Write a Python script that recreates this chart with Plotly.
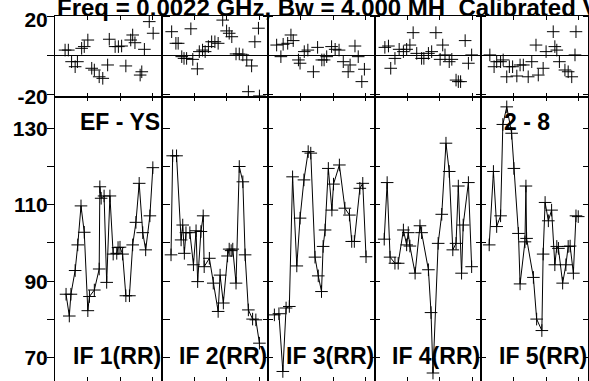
import plotly.graph_objects as go

W, H = 589, 381

title_text = "Freq = 0.0022 GHz, Bw = 4.000 MH  Calibrated Vis"
baseline_label = "EF - YS"
source_label = "2 - 8"
if_labels = ["IF 1(RR)", "IF 2(RR)", "IF 3(RR)", "IF 4(RR)", "IF 5(RR)"]

# amplitude vs time (hours) for each IF
amp_t1 = [0.34, 0.44, 0.49, 0.62, 0.70, 0.80, 0.90, 1.01, 1.06, 1.21, 1.36, 1.38, 1.42, 1.51, 1.59,
          1.69, 1.79, 1.90, 1.94, 2.00, 2.08, 2.18, 2.29, 2.39, 2.49, 2.59, 2.70, 2.79, 2.92, 3.01]
amp_1 = [86.6, 80.9, 86.6, 92.8, 99.5, 109.7, 102.8, 82.3, 86.0, 87.7, 93.2, 114.7, 111.7, 112.3, 89.7,
         112.3, 97.1, 97.3, 98.8, 98.9, 97.1, 86.2, 86.2, 99.5, 105.4, 115.6, 102.7, 98.2, 107.1, 119.7]

amp_t2 = [0.29, 0.34, 0.46, 0.60, 0.65, 0.70, 0.75, 0.87, 0.98, 1.06, 1.11, 1.21, 1.28, 1.31, 1.47, 1.59,
          1.74, 1.80, 1.90, 2.03, 2.08, 2.14, 2.19, 2.29, 2.39, 2.50, 2.57, 2.67, 2.80, 2.90, 3.01]
amp_2 = [96.9, 122.8, 122.8, 100.8, 104.7, 97.3, 102.7, 102.7, 94.3, 103.2, 89.9, 103.0, 107.1, 93.8, 96.0, 89.5,
         82.1, 91.6, 84.3, 96.6, 98.4, 98.0, 98.4, 89.5, 120.0, 116.0, 96.9, 82.5, 80.1, 79.9, 73.8]

amp_t3 = [0.19, 0.33, 0.45, 0.55, 0.65, 0.75, 0.88, 0.98, 1.10, 1.23, 1.31, 1.44, 1.54, 1.64, 1.69, 1.75,
          1.85, 1.96, 2.01, 2.19, 2.36, 2.50, 2.57, 2.65, 2.82, 2.91, 3.01]
amp_3 = [81.2, 81.5, 66.4, 83.0, 83.4, 117.3, 94.0, 106.5, 116.5, 123.9, 123.5, 96.3, 91.4, 87.3, 99.1, 103.4,
         119.5, 108.6, 115.4, 120.4, 109.1, 107.3, 100.4, 100.4, 114.3, 115.6, 96.4]

amp_t4 = [0.29, 0.38, 0.47, 0.62, 0.72, 0.88, 0.98, 1.03, 1.08, 1.24, 1.39, 1.44, 1.65, 1.73, 1.79, 1.95,
          2.06, 2.19, 2.29, 2.40, 2.50, 2.57, 2.67, 2.72, 2.88, 2.98]
amp_4 = [101.0, 115.8, 96.3, 94.7, 94.7, 103.4, 99.5, 102.7, 99.2, 92.1, 104.5, 102.7, 93.0, 81.8, 66.0, 99.9,
         107.5, 126.1, 118.7, 98.2, 99.9, 114.9, 92.1, 104.7, 115.8, 93.8]

amp_t5 = [0.24, 0.37, 0.47, 0.59, 0.66, 0.78, 0.93, 1.00, 1.14, 1.19, 1.34, 1.37, 1.39, 1.60, 1.70, 1.86,
          1.90, 1.96, 2.06, 2.16, 2.26, 2.32, 2.37, 2.50, 2.60, 2.67, 2.73, 2.83, 2.91, 2.98]
amp_5 = [99.5, 118.7, 104.3, 107.1, 131.0, 135.6, 128.7, 119.5, 102.5, 89.3, 100.3, 114.9, 101.2, 91.0, 80.1, 77.1,
         97.1, 110.6, 105.8, 108.6, 94.3, 99.1, 98.6, 89.5, 94.3, 99.1, 99.2, 92.1, 107.1, 106.9]

# phase (degrees) vs time (hours) for each IF
ph_t1 = [0.31, 0.41, 0.51, 0.62, 0.69, 0.82, 0.90, 1.01, 1.13, 1.21, 1.36, 1.47, 1.62, 1.67, 1.85, 1.95,
         2.05, 2.18, 2.33, 2.39, 2.46, 2.62, 2.67, 2.75, 2.90, 3.02]
ph_1 = [2.7, 2.7, -3.3, -5.9, -3.3, 3.6, 4.5, 7.9, -6.7, -7.6, -11.1, -11.9, -5.0, 8.3, 4.5, 4.5,
        4.8, -5.5, 7.9, 10.5, 6.5, -10.2, -8.5, 3.1, 17.4, 11.4]

ph_t2 = [0.31, 0.44, 0.51, 0.62, 0.69, 0.77, 0.90, 0.96, 1.10, 1.16, 1.26, 1.34, 1.44, 1.54, 1.64, 1.74,
         1.88, 2.00, 2.08, 2.16, 2.29, 2.39, 2.50, 2.62, 2.67, 2.77, 2.87, 2.98, 3.01]
ph_2 = [12.2, 6.2, 6.2, -0.7, -1.6, -1.6, 13.7, -2.1, -7.0, 1.9, 2.7, 1.9, 4.5, 7.0, 7.0, 6.2,
        18.2, 12.6, 11.4, 9.6, 0.7, 0.7, 0.2, -2.4, -18.8, -5.5, 7.0, 14.0, -21.0]

ph_t3 = [0.26, 0.39, 0.46, 0.60, 0.70, 0.77, 0.93, 0.98, 1.11, 1.22, 1.39, 1.52, 1.65, 1.72, 1.80, 1.95,
         2.06, 2.18, 2.31, 2.46, 2.52, 2.67, 2.77, 2.88, 2.96]
ph_3 = [5.3, -0.7, 5.7, 6.2, 10.5, 7.6, -2.4, -4.1, 1.9, 2.7, -8.5, 4.1, -2.4, -2.4, -0.7, 4.5,
        3.1, 2.7, -3.3, -8.5, -5.0, 4.8, -0.7, -13.6, -7.2]

ph_t4 = [0.31, 0.42, 0.49, 0.62, 0.75, 0.88, 0.98, 1.08, 1.18, 1.29, 1.44, 1.51, 1.65, 1.75, 1.88, 2.01,
         2.09, 2.16, 2.29, 2.37, 2.50, 2.57, 2.64, 2.78, 2.88, 2.98]
ph_4 = [4.1, 4.8, -6.7, -1.6, 3.1, 1.9, 3.1, 5.3, 11.7, 1.0, -1.6, -1.6, 1.0, 1.9, 11.7, -2.1,
        5.3, 0.2, -3.3, -2.1, -12.8, -13.6, -13.6, 7.6, -4.1, 0.2]

ph_t5 = [0.26, 0.39, 0.47, 0.59, 0.67, 0.78, 0.86, 0.96, 1.09, 1.19, 1.29, 1.44, 1.55, 1.68, 1.75, 1.90,
         1.99, 2.21, 2.26, 2.32, 2.40, 2.57, 2.67, 2.78, 2.88, 2.91]
ph_5 = [0.2, -5.9, -3.3, -3.3, -2.4, -11.1, -5.9, -5.9, -10.7, -5.0, -5.0, -11.1, -3.3, 5.3, -10.2, -6.7,
        1.9, 12.2, 4.5, 2.7, -3.3, -7.6, -8.5, -11.1, 0.2, 12.2]

amp_ticks = [70, 80, 90, 100, 110, 120, 130]
amp_ticktext = ["70", "", "90", "", "110", "", "130"]
ph_ticks = [-20, 0, 20]
ph_ticktext = ["-20", "", "20"]
time_ticks = [1, 2, 3]

amp_series = [(amp_t1, amp_1), (amp_t2, amp_2), (amp_t3, amp_3), (amp_t4, amp_4), (amp_t5, amp_5)]
ph_series = [(ph_t1, ph_1), (ph_t2, ph_2), (ph_t3, ph_3), (ph_t4, ph_4), (ph_t5, ph_5)]


def px_x(p):
    return p / W


def px_y(p):
    return 1 - p / H


FONT = "Liberation Sans, Arial, sans-serif"
edges = [55, 161.6, 268.2, 374.8, 481.4, 588]
top_dom = [px_y(97.3), px_y(15.5)]
bot_dom = [px_y(380.5), px_y(97.3)]

fig = go.Figure()
marker = dict(symbol="cross-thin", size=9, line=dict(color="black", width=1), color="black")

layout = dict(
    width=W, height=H, margin=dict(l=0, r=0, t=0, b=0, autoexpand=False),
    paper_bgcolor="white", plot_bgcolor="white", showlegend=False,
)

for i in range(5):
    top = i + 1
    bot = i + 6
    xd = [px_x(edges[i]), px_x(edges[i + 1])]
    ph_t, ph_v = ph_series[i]
    am_t, am_v = amp_series[i]
    fig.add_trace(go.Scatter(x=ph_t, y=ph_v, mode="markers", marker=marker,
                             xaxis=f"x{top}", yaxis=f"y{top}"))
    fig.add_trace(go.Scatter(x=am_t, y=am_v, mode="lines+markers", marker=marker,
                             line=dict(color="black", width=1),
                             xaxis=f"x{bot}", yaxis=f"y{bot}"))
    ytick = "outside" if i == 0 else "inside"
    for n, dom, rng, tv, tt, shift in ((top, top_dom, [-21.7, 20.57], ph_ticks, ph_ticktext, 3),
                                       (bot, bot_dom, [64.04, 138.1], amp_ticks, amp_ticktext, 0)):
        layout[f"xaxis{n}"] = dict(
            domain=xd, anchor=f"y{n}", range=[0, 3.28], tickvals=time_ticks,
            showticklabels=False, ticks="inside", ticklen=4, tickcolor="black",
            mirror="ticks", showline=True, linecolor="black", linewidth=1,
            showgrid=False, zeroline=False,
        )
        layout[f"yaxis{n}"] = dict(
            domain=dom, anchor=f"x{n}", range=rng, tickvals=tv,
            ticktext=tt, showticklabels=(i == 0), ticklabelstandoff=-5, ticklabelshift=shift,
            ticks=ytick, ticklen=7 if i == 0 else 5, tickcolor="black",
            mirror="ticks", showline=True, linecolor="black", linewidth=1,
            showgrid=False, zeroline=(n == top), zerolinecolor="black", zerolinewidth=1,
            tickfont=dict(family=FONT, size=21, color="black", weight="bold"),
        )

bold = lambda s: dict(family=FONT, size=s, color="black", weight="bold")
ann = [
    dict(text=title_text, x=px_x(55), y=px_y(7), xref="paper", yref="paper",
         xanchor="left", yanchor="middle", showarrow=False, font=bold(24)),
    dict(text=baseline_label, x=px_x(78), y=px_y(122), xref="paper", yref="paper",
         xanchor="left", yanchor="middle", showarrow=False, font=bold(23)),
    dict(text=source_label, x=px_x(502), y=px_y(122), xref="paper", yref="paper",
         xanchor="left", yanchor="middle", showarrow=False, font=bold(23)),
]
for i, lab in enumerate(if_labels):
    ann.append(dict(text=lab, x=px_x(edges[i] + 15.5), y=px_y(356), xref="paper", yref="paper",
                    xanchor="left", yanchor="middle", showarrow=False, font=bold(23)))
layout["annotations"] = ann

fig.update_layout(**layout)
fig.write_html("out.html")
